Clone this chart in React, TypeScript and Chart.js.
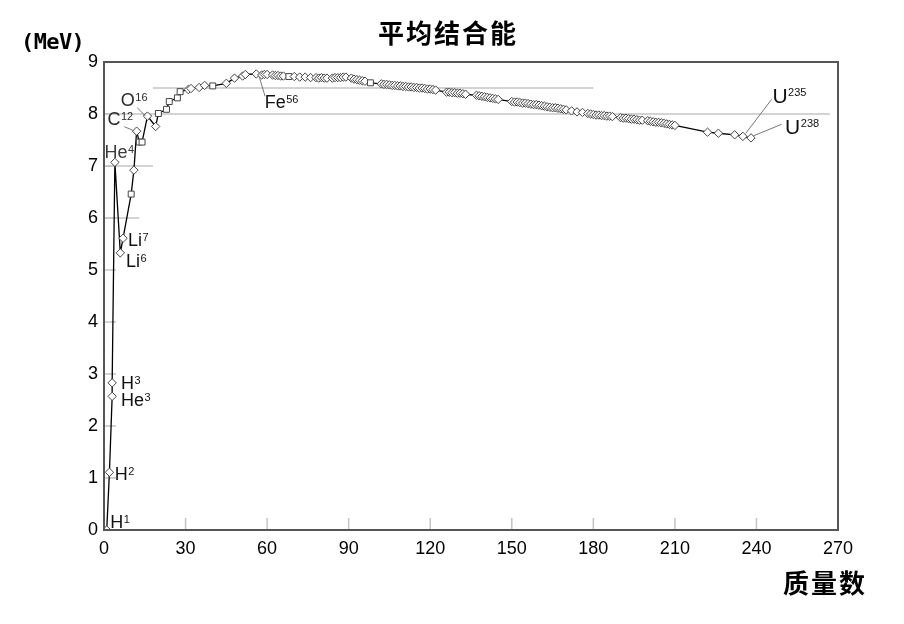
import { useEffect, useRef } from "react"
import { Chart, registerables } from "chart.js"

Chart.register(...registerables)

// mass number A and average binding energy per nucleon (MeV)
const massNumbers = [
  1, 2, 3, 3, 4, 6, 7, 10, 11, 12, 13, 14, 16, 19, 20, 23, 24, 27, 28, 31, 32, 35, 37, 40, 45, 48, 51, 52,
  56, 58, 59, 60, 62, 63, 64, 65, 66, 68, 70, 72, 74, 76, 78, 79, 80, 81, 82, 84, 85, 86, 87, 88, 89,
  91, 92, 93, 94, 95, 96, 98, 102, 103, 104, 105, 106, 107, 108, 109, 110, 111, 112, 113, 114, 115, 116,
  117, 118, 119, 120, 121, 122, 126, 127, 128, 129, 130, 131, 132, 133, 137, 138, 139, 140, 141, 142, 143,
  144, 145, 150, 151, 152, 153, 154, 155, 156, 157, 158, 159, 160, 161, 162, 163, 164, 165, 166, 167, 168,
  169, 170, 172, 174, 176, 178, 179, 180, 181, 182, 183, 184, 185, 186, 187, 190, 191, 192, 193, 194, 195,
  196, 197, 198, 200, 201, 202, 203, 204, 205, 206, 207, 208, 209, 210, 222, 226, 232, 235, 238,
]
const bindingEnergies = [
  0, 1.11, 2.57, 2.83, 7.07, 5.33, 5.61, 6.46, 6.92, 7.67, 7.46, 7.46, 7.96, 7.76, 8.01, 8.09, 8.24, 8.31,
  8.43, 8.47, 8.49, 8.51, 8.55, 8.54, 8.59, 8.69, 8.73, 8.76,
  8.77, 8.75, 8.76, 8.76, 8.75, 8.74, 8.74, 8.73, 8.73, 8.72, 8.72, 8.71, 8.71, 8.7, 8.7, 8.69, 8.7, 8.69,
  8.69, 8.69, 8.7, 8.7, 8.7, 8.71, 8.71,
  8.69, 8.67, 8.66, 8.65, 8.64, 8.63, 8.6, 8.58, 8.57, 8.57, 8.56, 8.55, 8.55, 8.54, 8.54, 8.53, 8.53,
  8.52, 8.52, 8.51, 8.51, 8.5,
  8.5, 8.49, 8.48, 8.48, 8.47, 8.46, 8.42, 8.42, 8.41, 8.41, 8.4, 8.4, 8.39, 8.38, 8.36, 8.35, 8.34, 8.33,
  8.32, 8.31, 8.3,
  8.29, 8.28, 8.24, 8.23, 8.23, 8.22, 8.21, 8.21, 8.2, 8.19, 8.18, 8.18, 8.17, 8.16, 8.15, 8.14, 8.13,
  8.12, 8.12, 8.11, 8.1,
  8.09, 8.08, 8.06, 8.04, 8.03, 8.01, 8.0, 7.99, 7.98, 7.98, 7.97, 7.97, 7.96, 7.96, 7.95, 7.93, 7.92,
  7.92, 7.91, 7.9, 7.9,
  7.89, 7.88, 7.88, 7.87, 7.86, 7.85, 7.84, 7.84, 7.83, 7.82, 7.81, 7.8, 7.79, 7.78, 7.65, 7.63, 7.6,
  7.57, 7.54,
]
// points drawn as squares instead of diamonds
const squareMarkers = [10, 13, 14, 20, 23, 24, 27, 28, 40, 68, 98]

const xTickValues = [0, 30, 60, 90, 120, 150, 180, 210, 240, 270]
const yTickValues = [0, 1, 2, 3, 4, 5, 6, 7, 8, 9]

// grey guide lines
const guideLevels = [8.5, 8, 7, 6]
const guideFrom = [18, 0, 0, 0]
const guideTo = [180, 267, 18, 13]

// nuclide labels: anchor point, text offset (px) and optional leader line (px, relative to anchor)
const nuclideLabels = [
  { name: "H", sup: "1", x: 1, y: 0, dx: 3.6, dy: -1.7 },
  { name: "H", sup: "2", x: 2, y: 1.11, dx: 5.2, dy: 7.7 },
  { name: "He", sup: "3", x: 3, y: 2.57, dx: 8.8, dy: 9.3 },
  { name: "H", sup: "3", x: 3, y: 2.83, dx: 8.8, dy: 6.5 },
  { name: "He", sup: "4", x: 4, y: 7.07, dx: -10.3, dy: -4, color: "#3a3a3a" },
  { name: "Li", sup: "7", x: 7, y: 5.61, dx: 5, dy: 7.7 },
  { name: "Li", sup: "6", x: 6, y: 5.33, dx: 5.7, dy: 13.9 },
  { name: "C", sup: "12", x: 12, y: 7.67, dx: -29.2, dy: -6.2, color: "#2a2a2a", leader: [-12.3, -4.5, -2.3, -0.2] },
  { name: "O", sup: "16", x: 16, y: 7.96, dx: -26.7, dy: -10.4, color: "#2a2a2a", leader: [-10.2, -8.4, -2.2, -0.1] },
  { name: "Fe", sup: "56", x: 56, y: 8.77, dx: 8.4, dy: 33.7, leader: [3.1, 3, 8.8, 22.3] },
  { name: "U", sup: "235", x: 235, y: 7.57, dx: 29.6, dy: -33.1, size: 21, leader: [2.9, -3.1, 28.9, -37.1] },
  { name: "U", sup: "238", x: 238, y: 7.54, dx: 34.1, dy: -4, size: 21, leader: [2.3, -2, 30.7, -13.7] },
]

const framePlugin = {
  id: "frame",
  beforeDatasetsDraw(chart) {
    const { ctx, chartArea, scales } = chart
    ctx.save()
    ctx.strokeStyle = "#c4c4c4"
    ctx.lineWidth = 1.5
    ctx.beginPath()
    xTickValues.slice(1, -1).forEach((v) => {
      const px = scales.x.getPixelForValue(v)
      ctx.moveTo(px, chartArea.bottom)
      ctx.lineTo(px, chartArea.bottom - 12)
    })
    yTickValues.slice(1, -1).forEach((v) => {
      const py = scales.y.getPixelForValue(v)
      ctx.moveTo(chartArea.left, py)
      ctx.lineTo(chartArea.left + 12, py)
    })
    ctx.stroke()
    ctx.restore()
  },
  afterDraw(chart) {
    const { ctx, chartArea, scales } = chart
    ctx.save()
    ctx.strokeStyle = "#555"
    ctx.lineWidth = 2
    ctx.strokeRect(chartArea.left, chartArea.top, chartArea.right - chartArea.left, chartArea.bottom - chartArea.top)

    // titles
    ctx.fillStyle = "#000"
    ctx.textBaseline = "middle"
    ctx.textAlign = "center"
    ctx.font = 'bold 26px "Noto Sans CJK SC"'
    ctx.letterSpacing = "2px"
    ctx.fillText("平均结合能", 448, 33)
    ctx.fillText("质量数", 825, 583)
    ctx.letterSpacing = "-0.6px"
    ctx.textAlign = "left"
    ctx.font = 'bold 22px "DejaVu Sans Mono"'
    ctx.fillText("(MeV)", 21, 43)
    ctx.letterSpacing = "0px"

    // nuclide labels
    nuclideLabels.forEach((l) => {
      const px = scales.x.getPixelForValue(l.x)
      const py = scales.y.getPixelForValue(l.y)
      if (l.leader) {
        ctx.strokeStyle = "#777"
        ctx.lineWidth = 1
        ctx.beginPath()
        ctx.moveTo(px + l.leader[0], py + l.leader[1])
        ctx.lineTo(px + l.leader[2], py + l.leader[3])
        ctx.stroke()
      }
      const size = l.size || 18
      const tx = px + l.dx
      const ty = py + l.dy
      ctx.fillStyle = l.color || "#111"
      ctx.textBaseline = "alphabetic"
      ctx.font = `${size}px "Liberation Sans"`
      ctx.fillText(l.name, tx, ty)
      const w = ctx.measureText(l.name).width
      ctx.font = '11px "Liberation Sans"'
      ctx.fillText(l.sup, tx + w + 0.5, ty - size * 0.716 + 7.9)
    })
    ctx.restore()
  },
}

export default function App() {
  const chartRef = useRef(null)
  const chartInstance = useRef(null)

  useEffect(() => {
    if (chartRef.current) {
      if (chartInstance.current) {
        chartInstance.current.destroy()
      }

      const ctx = chartRef.current.getContext("2d")
      const points = massNumbers.map((a, i) => ({ x: a, y: bindingEnergies[i] }))
      const styles = massNumbers.map((a) => (squareMarkers.includes(a) ? "rect" : "rectRot"))

      const guides = guideLevels.map((lvl, i) => ({
        data: [
          { x: guideFrom[i], y: lvl },
          { x: guideTo[i], y: lvl },
        ],
        borderColor: "#c4c4c4",
        borderWidth: 1.5,
        pointRadius: 0,
        order: 1,
      }))

      chartInstance.current = new Chart(ctx, {
        type: "line",
        data: {
          datasets: [
            {
              label: "平均结合能",
              data: points,
              borderColor: "#000",
              borderWidth: 1.3,
              pointStyle: styles,
              pointRadius: 4.2,
              pointBackgroundColor: "#fff",
              pointBorderColor: "#444",
              pointBorderWidth: 1,
              order: 0,
            },
            ...guides,
          ],
        },
        options: {
          responsive: true,
          maintainAspectRatio: false,
          animation: false,
          layout: {
            padding: { left: 0, top: 62, right: 66, bottom: 0 },
          },
          plugins: {
            legend: { display: false },
            tooltip: { enabled: false },
          },
          scales: {
            x: {
              type: "linear",
              min: 0,
              max: 270,
              afterBuildTicks: (scale) => {
                scale.ticks = xTickValues.map((v) => ({ value: v }))
              },
              afterFit: (scale) => {
                scale.height = 94
              },
              ticks: {
                color: "#000",
                padding: 8,
                font: { family: "Liberation Sans", size: 18 },
              },
              grid: { display: false, drawTicks: false },
              border: { display: false },
            },
            y: {
              min: 0,
              max: 9,
              afterBuildTicks: (scale) => {
                scale.ticks = yTickValues.map((v) => ({ value: v }))
              },
              afterFit: (scale) => {
                scale.width = 104
              },
              ticks: {
                color: "#000",
                padding: 6,
                font: { family: "Liberation Sans", size: 18 },
              },
              grid: { display: false, drawTicks: false },
              border: { display: false },
            },
          },
        },
        plugins: [framePlugin],
      })
    }

    return () => {
      if (chartInstance.current) {
        chartInstance.current.destroy()
      }
    }
  }, [])

  return (
    <div style={{ position: "fixed", left: 0, top: 0, width: 904, height: 624, background: "#fff" }}>
      <canvas ref={chartRef} />
    </div>
  )
}
